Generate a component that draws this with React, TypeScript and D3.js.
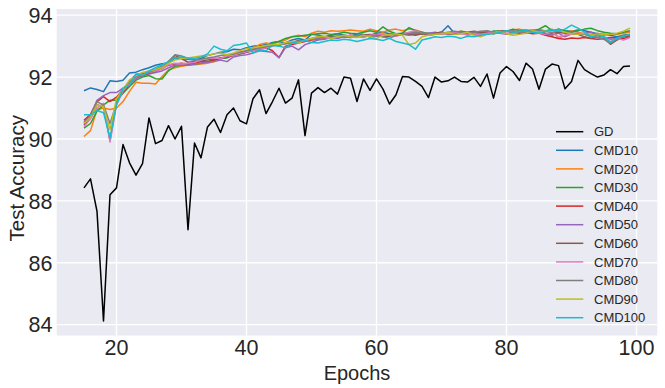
import * as d3 from 'd3';

// epochs 15..99
const epochs = d3.range(15, 100);

const gd = [
  88.42, 88.71, 87.66, 84.12, 88.2, 88.42, 89.82, 89.23, 88.83, 89.2,
  90.68, 89.85, 89.95, 90.43, 90.0, 90.41, 87.07, 89.87, 89.39, 90.39,
  90.64, 90.21, 90.78, 91.0, 90.59, 90.49, 91.3, 91.59, 90.82, 91.21,
  91.64, 91.16, 91.32, 91.91, 90.11, 91.48, 91.66, 91.5, 91.64, 91.45,
  92.0, 91.96, 91.21, 91.94, 91.57, 91.94, 91.61, 91.13, 91.43, 92.02,
  92.0, 91.86, 91.7, 91.34, 92.0, 91.84, 91.88, 92.0, 91.86, 91.84,
  91.99, 91.7, 92.1, 91.32, 92.13, 92.34, 92.18, 91.89, 92.45, 92.26,
  91.61, 92.26, 92.42, 92.37, 91.62, 91.86, 92.54, 92.24, 92.11, 92.0,
  92.07, 92.24, 92.11, 92.34, 92.36,
];

const cmd10 = [
  91.56, 91.65, 91.6, 91.53, 91.88, 91.86, 91.9, 92.13, 92.16, 92.24,
  92.3, 92.38, 92.43, 92.45, 92.62, 92.6, 92.58, 92.55, 92.6, 92.7,
  92.75, 92.8, 92.82, 92.9, 92.88, 92.95, 93.0, 93.02, 93.05, 93.12,
  93.15, 93.1, 93.2, 93.25, 93.2, 93.38, 93.36, 93.3, 93.35, 93.4,
  93.35, 93.32, 93.4, 93.38, 93.35, 93.42, 93.45, 93.4, 93.38, 93.42,
  93.4, 93.45, 93.38, 93.42, 93.4, 93.45, 93.66, 93.42, 93.45, 93.4,
  93.42, 93.45, 93.4, 93.48, 93.45, 93.5, 93.42, 93.45, 93.5, 93.48,
  93.52, 93.5, 93.45, 93.55, 93.5, 93.48, 93.52, 93.5, 93.45, 93.4,
  93.38, 93.35, 93.3, 93.35, 93.38,
];

const cmd20 = [
  90.08, 90.27, 90.95, 91.0, 90.95, 91.0, 91.21, 91.54, 91.83, 91.8,
  91.8, 91.78, 92.02, 92.24, 92.3, 92.35, 92.38, 92.4, 92.42, 92.45,
  92.5, 92.6, 92.65, 92.72, 92.8, 92.85, 92.95, 93.05, 93.1, 93.05,
  93.15, 93.2, 93.3, 93.35, 93.3, 93.42, 93.48, 93.45, 93.5, 93.48,
  93.5, 93.52, 93.5, 93.48, 93.55, 93.5, 93.45, 93.52, 93.55, 93.5,
  93.55, 93.52, 93.45, 93.4, 93.38, 93.4, 93.42, 93.45, 93.48, 93.4,
  93.42, 93.45, 93.48, 93.45, 93.5, 93.48, 93.52, 93.55, 93.5, 93.48,
  93.45, 93.5, 93.55, 93.25, 93.35, 93.5, 93.45, 93.4, 93.38, 93.42,
  93.35, 93.4, 93.38, 93.42, 93.45,
];

const cmd30 = [
  90.35, 90.5, 90.9, 91.1, 91.25, 91.25, 91.48, 91.7, 91.9, 92.0,
  92.05, 91.95, 91.94, 92.2, 92.35, 92.38, 92.4, 92.42, 92.45, 92.5,
  92.55, 92.6, 92.62, 92.7, 92.75, 92.8, 92.9, 92.95, 93.0, 93.1,
  93.15, 93.25, 93.3, 93.32, 93.35, 93.38, 93.4, 93.42, 93.38, 93.4,
  93.45, 93.42, 93.4, 93.45, 93.5, 93.45, 93.62, 93.48, 93.4, 93.42,
  93.6, 93.5, 93.45, 93.4, 93.42, 93.45, 93.4, 93.42, 93.48, 93.45,
  93.42, 93.45, 93.4, 93.48, 93.5, 93.48, 93.55, 93.5, 93.52, 93.5,
  93.55, 93.66, 93.5, 93.55, 93.5, 93.45, 93.5, 93.55, 93.58, 93.5,
  93.45, 93.42, 93.4, 93.45, 93.5,
];

const cmd40 = [
  90.6, 90.8, 91.21, 91.37, 91.21, 91.35, 91.6, 91.87, 92.08, 92.12,
  92.15, 92.2, 92.3, 92.38, 92.42, 92.45, 92.42, 92.45, 92.5, 92.48,
  92.55, 92.62, 92.65, 92.7, 92.8, 92.82, 92.88, 92.9, 92.95, 92.85,
  92.63, 93.0, 93.05, 93.1, 93.15, 93.2, 93.22, 93.25, 93.3, 93.32,
  93.3, 93.35, 93.32, 93.35, 93.3, 93.38, 93.35, 93.4, 93.38, 93.4,
  93.42, 93.38, 93.4, 93.35, 93.38, 93.42, 93.4, 93.45, 93.42, 93.4,
  93.38, 93.42, 93.45, 93.4, 93.45, 93.48, 93.45, 93.42, 93.45, 93.4,
  93.42, 93.35, 93.3, 93.25, 93.22, 93.26, 93.25, 93.28, 93.25, 93.22,
  93.25, 93.28, 93.26, 93.25, 93.3,
];

const cmd50 = [
  90.55, 90.75, 91.25, 91.4, 91.5, 91.5, 91.64, 91.8, 91.95, 92.05,
  92.1, 92.15, 92.2, 92.3, 92.38, 92.4, 92.38, 92.42, 92.45, 92.48,
  92.5, 92.55, 92.5, 92.65, 92.7, 92.72, 92.78, 92.85, 92.83, 92.8,
  92.63, 92.95, 93.0, 92.88, 93.05, 93.12, 93.2, 93.22, 93.28, 93.25,
  93.3, 93.28, 93.32, 93.3, 93.35, 93.32, 93.38, 93.35, 93.4, 93.38,
  93.35, 93.4, 93.38, 93.42, 93.45, 93.4, 93.42, 93.45, 93.4, 93.42,
  93.45, 93.42, 93.4, 93.45, 93.42, 93.38, 93.45, 93.48, 93.42, 93.45,
  93.48, 93.4, 93.35, 93.42, 93.3, 93.4, 93.38, 93.42, 93.45, 93.35,
  93.3, 93.22, 93.25, 93.3, 93.35,
];

const cmd60 = [
  90.45, 90.7, 91.1, 91.05, 89.95, 91.2, 91.5, 91.75, 92.0, 92.05,
  92.12, 92.18, 92.28, 92.5, 92.7, 92.6, 92.48, 92.5, 92.52, 92.55,
  92.58, 92.62, 92.65, 92.72, 92.75, 92.8, 92.85, 92.9, 93.0, 93.05,
  93.02, 93.1, 93.12, 93.18, 93.2, 93.25, 93.3, 93.28, 93.32, 93.3,
  93.35, 93.32, 93.3, 93.35, 93.38, 93.35, 93.3, 93.32, 93.38, 93.4,
  93.38, 93.35, 93.4, 93.38, 93.42, 93.45, 93.4, 93.38, 93.42, 93.45,
  93.48, 93.45, 93.42, 93.45, 93.48, 93.5, 93.45, 93.42, 93.45, 93.5,
  93.45, 93.42, 93.4, 93.45, 93.42, 93.4, 93.38, 93.3, 93.25, 93.35,
  93.25, 93.06, 93.2, 93.3, 93.32,
];

const cmd70 = [
  90.4, 90.65, 91.0, 91.15, 89.9, 91.1, 91.55, 91.8, 92.0, 92.08,
  92.15, 92.2, 92.25, 92.4, 92.45, 92.42, 92.45, 92.48, 92.55, 92.6,
  92.62, 92.6, 92.68, 92.7, 92.78, 92.82, 92.85, 92.9, 92.95, 93.0,
  93.05, 93.08, 93.1, 93.12, 93.18, 93.22, 93.25, 93.28, 93.25, 93.3,
  93.32, 93.35, 93.3, 93.28, 93.35, 93.38, 93.4, 93.35, 93.32, 93.38,
  93.45, 93.5, 93.42, 93.4, 93.38, 93.42, 93.4, 93.45, 93.42, 93.35,
  93.4, 93.38, 93.42, 93.45, 93.48, 93.42, 93.4, 93.45, 93.48, 93.45,
  93.42, 93.38, 93.45, 93.3, 93.35, 93.38, 93.42, 93.4, 93.35, 93.25,
  93.3, 93.15, 93.25, 93.2, 93.28,
];

const cmd80 = [
  90.5, 90.75, 91.2, 91.1, 90.5, 91.15, 91.6, 91.85, 92.02, 92.1,
  92.15, 92.25, 92.35, 92.5, 92.72, 92.68, 92.6, 92.55, 92.58, 92.62,
  92.65, 92.7, 92.72, 92.75, 92.8, 92.85, 92.9, 92.95, 92.98, 93.02,
  93.05, 93.08, 93.12, 93.15, 93.2, 93.22, 93.25, 93.3, 93.28, 93.32,
  93.3, 93.28, 93.32, 93.35, 93.3, 93.35, 93.3, 93.25, 93.35, 93.38,
  93.4, 93.45, 93.42, 93.4, 93.38, 93.42, 93.45, 93.48, 93.45, 93.42,
  93.45, 93.48, 93.5, 93.45, 93.42, 93.48, 93.5, 93.45, 93.48, 93.52,
  93.5, 93.48, 93.45, 93.5, 93.45, 93.42, 93.4, 93.38, 93.3, 93.28,
  93.22, 93.1, 93.25, 93.35, 93.38,
];

const cmd90 = [
  90.5, 90.7, 91.1, 91.05, 90.3, 91.3, 91.6, 91.9, 92.05, 92.15,
  92.2, 92.25, 92.3, 92.45, 92.55, 92.6, 92.62, 92.65, 92.68, 92.7,
  92.75, 92.78, 92.72, 92.78, 92.85, 92.92, 92.95, 92.98, 93.02, 93.05,
  93.05, 93.12, 93.15, 93.1, 93.2, 93.25, 93.3, 93.32, 93.25, 93.3,
  93.35, 93.3, 93.28, 93.35, 93.3, 93.25, 93.35, 93.38, 93.4, 93.35,
  93.05, 93.1, 93.3, 93.35, 93.38, 93.4, 93.45, 93.38, 93.4, 93.45,
  93.35, 93.3, 93.38, 93.42, 93.45, 93.4, 93.35, 93.38, 93.42, 93.5,
  93.45, 93.5, 93.48, 93.52, 93.45, 93.4, 93.38, 93.42, 93.38, 93.35,
  93.4, 93.38, 93.42, 93.48, 93.58,
];

const cmd100 = [
  90.78, 90.78, 90.92, 90.85, 90.03, 91.1, 91.64, 91.74, 92.1, 92.05,
  92.2, 92.3, 92.4, 92.5, 92.62, 92.65, 92.62, 92.6, 92.65, 92.75,
  93.0, 92.9, 92.85, 93.02, 93.05, 93.1, 92.78, 92.88, 92.85, 93.02,
  93.0, 92.95, 93.1, 93.15, 93.18, 93.12, 93.1, 93.15, 93.2, 93.18,
  93.22, 93.2, 93.15, 93.2, 93.25, 93.22, 93.18, 93.25, 93.15, 93.1,
  93.05, 92.9, 93.2, 93.25, 93.3, 93.28, 93.32, 93.3, 93.25, 93.32,
  93.3, 93.35, 93.38, 93.4, 93.45, 93.5, 93.45, 93.48, 93.5, 93.45,
  93.42, 93.48, 93.52, 93.5, 93.55, 93.68, 93.58, 93.45, 93.3, 93.35,
  93.3, 93.12, 93.25, 93.32, 93.38,
];

const seriesNames = ['GD', 'CMD10', 'CMD20', 'CMD30', 'CMD40', 'CMD50', 'CMD60', 'CMD70', 'CMD80', 'CMD90', 'CMD100'];
const seriesValues = [gd, cmd10, cmd20, cmd30, cmd40, cmd50, cmd60, cmd70, cmd80, cmd90, cmd100];
const seriesColors = ['#000000', '#1f77b4', '#ff7f0e', '#2ca02c', '#d62728', '#9467bd', '#8c564b', '#e377c2', '#7f7f7f', '#bcbd22', '#17becf'];

const xTicks = [20, 40, 60, 80, 100];
const yTicks = [84, 86, 88, 90, 92, 94];

const W = 665;
const H = 388;
const left = 56.7;
const right = 657.3;
const top = 9;
const bottom = 335.5;
const textColor = '#262626';
const font = '"Liberation Sans", Arial, sans-serif';

export default function App() {
  const pad = (99 - 15) * 0.05;
  const x = d3.scaleLinear().domain([15 - pad, 99 + pad]).range([left, right]);
  const y = d3.scaleLinear().domain([83.65, 94.2]).range([bottom, top]);
  const line = d3.line<number>().x((_, i) => x(epochs[i])).y((d) => y(d));

  return (
    <svg width={W} height={H} style={{ position: 'absolute', left: 0, top: 0 }} fontFamily={font}>
      <rect x={0} y={0} width={W} height={H} fill="#ffffff" />
      <rect x={left} y={top} width={right - left} height={bottom - top} fill="#eaeaf2" />
      {xTicks.map((t) => (
        <line key={'gx' + t} x1={x(t)} x2={x(t)} y1={top} y2={bottom} stroke="#ffffff" strokeWidth={1.3} />
      ))}
      {yTicks.map((t) => (
        <line key={'gy' + t} x1={left} x2={right} y1={y(t)} y2={y(t)} stroke="#ffffff" strokeWidth={1.3} />
      ))}
      {seriesValues.map((vals, i) => (
        <path key={seriesNames[i]} d={line(vals) || ''} fill="none" stroke={seriesColors[i]} strokeWidth={1.5} strokeLinejoin="round" />
      ))}
      {yTicks.map((t) => (
        <text key={'ty' + t} x={52.5} y={y(t)} dy="0.36em" textAnchor="end" fontSize={21.5} fill={textColor}>
          {t}
        </text>
      ))}
      {xTicks.map((t) => (
        <text key={'tx' + t} x={x(t)} y={354.7} textAnchor="middle" fontSize={21.5} fill={textColor}>
          {t}
        </text>
      ))}
      <text x={(left + right) / 2} y={380} textAnchor="middle" fontSize={20} fill={textColor}>
        Epochs
      </text>
      <text transform={`translate(24,${(top + bottom) / 2 + 6}) rotate(-90)`} textAnchor="middle" fontSize={20.5} fill={textColor}>
        Test Accuracy
      </text>
      {seriesNames.map((name, i) => {
        const ly = 131.7 + i * 18.6;
        return (
          <g key={'lg' + name}>
            <line x1={556} x2={583.3} y1={ly} y2={ly} stroke={seriesColors[i]} strokeWidth={1.5} />
            <text x={594} y={ly} dy="0.36em" fontSize={13} fill={textColor}>
              {name}
            </text>
          </g>
        );
      })}
    </svg>
  );
}
